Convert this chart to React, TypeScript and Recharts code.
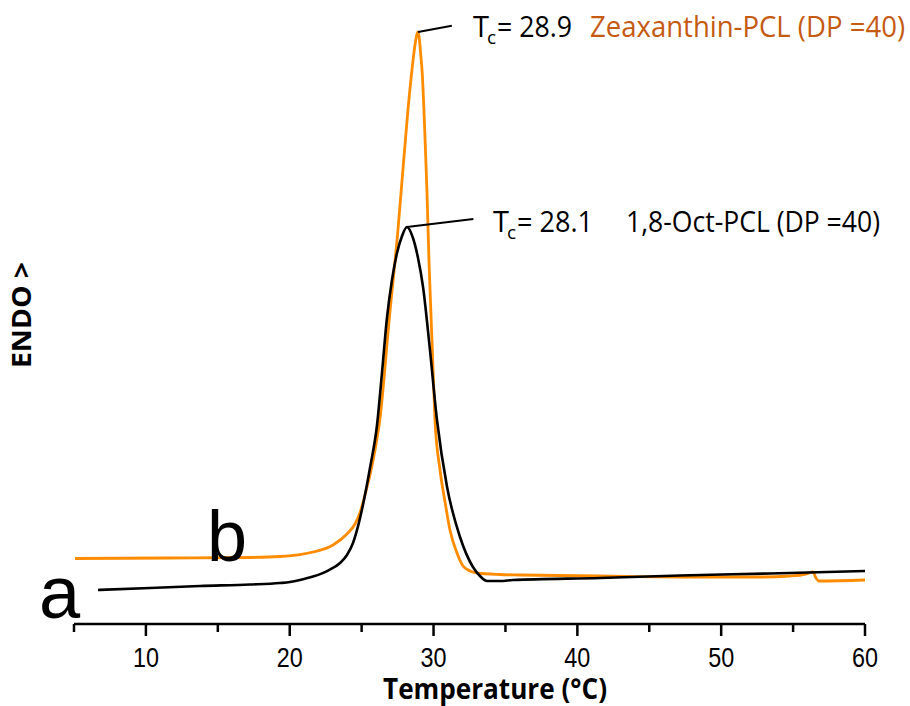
import React from 'react';
import { LineChart, Line, XAxis, YAxis, ReferenceLine } from 'recharts';

// DSC cooling traces (temperature in °C, signal in arbitrary units)
const octTemp = [6.67, 10.28, 13.76, 17.24, 19.32, 20.02, 20.71, 21.62, 22.66, 23.5, 23.98, 24.4, 24.75, 25.09, 25.58, 26.07, 26.42, 26.76, 27.11, 27.46, 27.81, 28.15, 28.57, 28.92, 29.27, 29.75, 30.24, 30.94, 31.84, 32.74, 33.23, 33.72, 34.62, 35.52, 41.57, 47.14, 53.39, 60.0];
const octSignal = [5.67, 6.0, 6.33, 6.58, 6.83, 7.0, 7.33, 7.9, 8.9, 10.17, 11.5, 13.5, 16.3, 19.83, 26.0, 33.17, 42.0, 51.0, 57.33, 61.83, 64.67, 66.17, 64.33, 61.0, 56.17, 45.67, 34.0, 22.83, 14.5, 9.5, 8.0, 7.17, 7.17, 7.33, 7.67, 8.08, 8.42, 8.83];

const zeaTemp = [5.07, 11.47, 17.24, 19.32, 20.71, 21.62, 23.01, 23.98, 24.54, 24.88, 25.23, 25.58, 25.93, 26.28, 26.9, 27.53, 27.87, 28.22, 28.5, 28.71, 28.92, 29.13, 29.2, 29.4, 29.54, 29.68, 29.89, 30.1, 30.45, 30.8, 31.14, 31.63, 32.05, 32.54, 33.02, 34.62, 36.01, 41.57, 47.14, 52.7, 54.79, 55.9, 56.38, 56.59, 56.8, 60.0];
const zeaSignal = [10.92, 11.0, 11.08, 11.25, 11.58, 12.0, 13.17, 15.0, 16.67, 18.5, 21.5, 24.83, 29.0, 34.33, 50.33, 65.83, 75.67, 85.67, 92.33, 96.5, 98.67, 94.33, 92.33, 81.5, 72.33, 60.67, 47.33, 34.0, 25.67, 20.33, 15.67, 11.83, 9.67, 8.83, 8.5, 8.25, 8.17, 8.0, 7.83, 7.83, 8.0, 8.33, 8.67, 7.67, 7.17, 7.33];

const xTicks = [5, 10, 15, 20, 25, 30, 35, 40, 45, 50, 55, 60];

const octData = octTemp.map((t, i) => ({ t, v: octSignal[i] }));
const zeaData = zeaTemp.map((t, i) => ({ t, v: zeaSignal[i] }));

const ORANGE = '#ff8c00';
const ORANGE_TEXT = '#c55a11';
const sans = '"Open Sans", "Noto Sans", sans-serif';
const arial = '"Liberation Sans", Arial, sans-serif';

const XTick = (props: any) => {
  const { x, y, payload } = props;
  const major = payload.value % 10 === 0;
  return (
    <g>
      <line x1={x} y1={y} x2={x} y2={y + (major ? 12 : 8)} stroke="#000" strokeWidth={2.5} />
      {major && (
        <text
          x={x - 13}
          y={y + 43}
          fontSize={28}
          fontFamily={arial}
          fill="#000"
          textLength={26}
          lengthAdjust="spacingAndGlyphs"
        >
          {payload.value}
        </text>
      )}
    </g>
  );
};

export default function App() {
  return (
    <div style={{ position: 'relative', width: 910, height: 706, background: '#fff' }}>
      <style>{'body{margin:0}'}</style>
      <LineChart width={910} height={706} margin={{ top: 24, right: 45, left: 74, bottom: 22 }}>
        <XAxis
          dataKey="t"
          type="number"
          domain={[5, 60]}
          ticks={xTicks}
          allowDuplicatedCategory={false}
          height={60}
          tickSize={0}
          tickMargin={0}
          tickLine={false}
          axisLine={{ stroke: '#000', strokeWidth: 2.5 }}
          tick={<XTick />}
        />
        <YAxis type="number" dataKey="v" domain={[0, 100]} hide />
        <Line data={zeaData} dataKey="v" type="monotone" stroke={ORANGE} strokeWidth={2.8} dot={false} isAnimationActive={false} />
        <Line data={octData} dataKey="v" type="monotone" stroke="#000" strokeWidth={2.6} dot={false} isAnimationActive={false} />
        <ReferenceLine segment={[{ x: 28.92, y: 98.67 }, { x: 31.27, y: 99.72 }]} stroke="#000" strokeWidth={2} ifOverflow="visible" />
        <ReferenceLine segment={[{ x: 28.15, y: 66.17 }, { x: 32.77, y: 67.5 }]} stroke="#000" strokeWidth={2} ifOverflow="visible" />
      </LineChart>
      <svg width={910} height={706} style={{ position: 'absolute', left: 0, top: 0, pointerEvents: 'none' }}>
        <text x={473} y={37} fontSize={29} fontFamily={sans} fill="#000">T</text>
        <text x={487} y={44} fontSize={19} fontFamily={sans} fill="#000">c</text>
        <text x={497} y={37} fontSize={29} fontFamily={sans} fill="#000" textLength={75} lengthAdjust="spacingAndGlyphs">= 28.9</text>
        <text x={590} y={37} fontSize={29} fontFamily={sans} fill={ORANGE_TEXT} textLength={315} lengthAdjust="spacingAndGlyphs">Zeaxanthin-PCL (DP =40)</text>

        <text x={493} y={232} fontSize={29} fontFamily={sans} fill="#000">T</text>
        <text x={507} y={239} fontSize={19} fontFamily={sans} fill="#000">c</text>
        <text x={517} y={232} fontSize={29} fontFamily={sans} fill="#000" textLength={76} lengthAdjust="spacingAndGlyphs">= 28.1</text>
        <text x={626} y={232} fontSize={29} fontFamily={sans} fill="#000" textLength={254} lengthAdjust="spacingAndGlyphs">1,8-Oct-PCL (DP =40)</text>

        <text x={39} y={618} fontSize={74} fontFamily={arial} fill="#000">a</text>
        <text x={207} y={561} fontSize={72} fontFamily={arial} fill="#000">b</text>

        <text x={383} y={699} fontSize={28} fontWeight={700} fontFamily={sans} fill="#000" textLength={224} lengthAdjust="spacingAndGlyphs">Temperature (°C)</text>
        <text
          x={0}
          y={0}
          transform="translate(31,315) rotate(-90)"
          textAnchor="middle"
          fontSize={27}
          fontWeight={700}
          fontFamily={sans}
          fill="#000"
          textLength={106}
          lengthAdjust="spacingAndGlyphs"
        >
          ENDO &gt;
        </text>
      </svg>
    </div>
  );
}
